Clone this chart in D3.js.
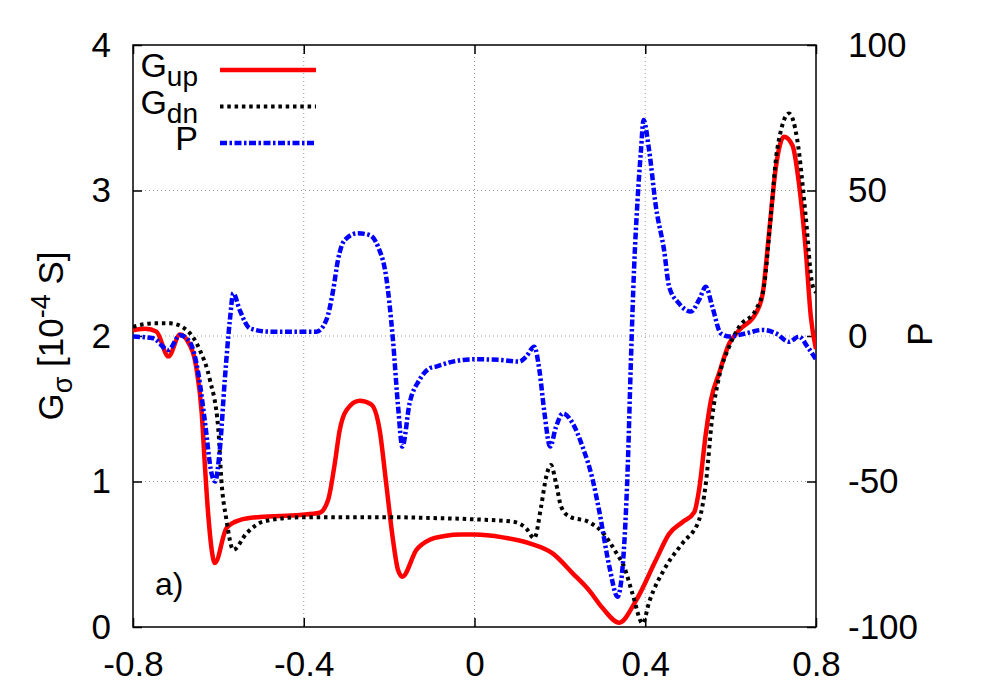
<!DOCTYPE html>
<html>
<head>
<meta charset="utf-8">
<script src="https://cdn.jsdelivr.net/npm/d3@7"></script>
<style>
  body { margin: 0; background: #fff; }
  svg { font-family: "Liberation Sans", Arial, sans-serif; }
</style>
</head>
<body>
<div id="chart"></div>
<script>
// values: [bias, value]
const gUp = [
  [-0.800, 2.04], [-0.770, 2.05], [-0.745, 2.03], [-0.717, 1.86], [-0.690, 2.01],
  [-0.671, 1.96], [-0.651, 1.77], [-0.639, 1.47], [-0.632, 1.13], [-0.624, 0.78],
  [-0.608, 0.44], [-0.581, 0.68], [-0.550, 0.735], [-0.503, 0.756], [-0.409, 0.77],
  [-0.363, 0.785], [-0.343, 0.873], [-0.327, 1.13], [-0.316, 1.35], [-0.300, 1.49],
  [-0.269, 1.555], [-0.242, 1.53], [-0.222, 1.35], [-0.207, 0.99], [-0.191, 0.60],
  [-0.179, 0.39], [-0.169, 0.346], [-0.136, 0.53], [-0.105, 0.60], [-0.070, 0.625],
  [-0.030, 0.635], [0.000, 0.635], [0.066, 0.616], [0.129, 0.575], [0.183, 0.506],
  [0.230, 0.369], [0.269, 0.25], [0.300, 0.13], [0.339, 0.03], [0.378, 0.18],
  [0.425, 0.46], [0.456, 0.64], [0.487, 0.72], [0.515, 0.79], [0.526, 0.942],
  [0.542, 1.331], [0.554, 1.56], [0.573, 1.744], [0.597, 1.95], [0.620, 2.04],
  [0.659, 2.156], [0.675, 2.29], [0.690, 2.706], [0.706, 3.16], [0.725, 3.37],
  [0.745, 3.31], [0.760, 3.05], [0.776, 2.59], [0.788, 2.13], [0.800, 1.91]
];

const gDn = [
  [-0.800, 2.064], [-0.753, 2.087], [-0.713, 2.087], [-0.674, 2.04], [-0.643, 1.90],
  [-0.620, 1.70], [-0.600, 1.354], [-0.593, 1.01], [-0.581, 0.735], [-0.565, 0.53],
  [-0.534, 0.644], [-0.495, 0.724], [-0.409, 0.754], [-0.200, 0.755], [-0.113, 0.75],
  [0.000, 0.74], [0.090, 0.724], [0.121, 0.678], [0.140, 0.61], [0.156, 0.827],
  [0.168, 1.033], [0.179, 1.113], [0.191, 0.988], [0.203, 0.827], [0.222, 0.76],
  [0.269, 0.72], [0.300, 0.65], [0.332, 0.51], [0.351, 0.41], [0.370, 0.23],
  [0.394, 0.025], [0.409, 0.17], [0.448, 0.414], [0.487, 0.575], [0.526, 0.735],
  [0.542, 0.988], [0.557, 1.445], [0.573, 1.72], [0.597, 1.93], [0.620, 2.064],
  [0.659, 2.18], [0.678, 2.34], [0.694, 2.82], [0.709, 3.28], [0.737, 3.53],
  [0.756, 3.35], [0.776, 2.82], [0.791, 2.36], [0.800, 2.30]
];

const pol = [
  [-0.800, -0.2], [-0.753, -0.8], [-0.717, -4.8], [-0.690, 0.3], [-0.667, -2],
  [-0.647, -12.8], [-0.632, -28.9], [-0.616, -47.2], [-0.608, -50], [-0.596, -38],
  [-0.585, -15.1], [-0.573, 5.5], [-0.565, 14.7], [-0.550, 8.9], [-0.526, 2.6],
  [-0.480, 1.5], [-0.370, 1.5], [-0.347, 5.5], [-0.331, 15.8], [-0.320, 26],
  [-0.304, 33], [-0.273, 35.3], [-0.246, 34.7], [-0.226, 30.7], [-0.207, 20.4],
  [-0.191, -1.4], [-0.179, -24.3], [-0.169, -38], [-0.152, -23.1], [-0.129, -15.1],
  [-0.105, -11.1], [-0.090, -10.5], [-0.051, -8.8], [0.000, -8], [0.058, -8.2],
  [0.105, -8.8], [0.121, -7.1], [0.140, -3.7], [0.152, -11.7], [0.164, -26.6],
  [0.177, -38], [0.191, -31.2], [0.207, -26.6], [0.230, -30], [0.253, -38],
  [0.277, -49.5], [0.292, -60], [0.316, -79.3], [0.335, -89.6], [0.347, -79.3],
  [0.359, -44.9], [0.366, -10.5], [0.374, 23.8], [0.382, 46.7], [0.390, 63.9],
  [0.396, 74.2], [0.409, 63.9], [0.425, 44.4], [0.444, 29.6], [0.456, 16.9],
  [0.479, 11.2], [0.507, 8.4], [0.526, 12.4], [0.542, 16.9], [0.557, 10.1],
  [0.577, 0.9], [0.597, -0.2], [0.636, 0.9], [0.675, 2.1], [0.706, 0.9],
  [0.737, -2], [0.760, -0.2], [0.780, -3.7], [0.800, -8]
];

const xTicks = [-0.8, -0.4, 0, 0.4, 0.8];
const gTicks = [0, 1, 2, 3, 4];
const pTicks = [-100, -50, 0, 50, 100];
const xGrid = [-0.4, 0, 0.4];
const gGrid = [1, 2, 3];

const width = 1000, height = 700;
const margin = {top: 45, right: 184, bottom: 73, left: 133};
const w = width - margin.left - margin.right;
const h = height - margin.top - margin.bottom;

const x = d3.scaleLinear().domain([-0.8, 0.8]).range([0, w]);
const yG = d3.scaleLinear().domain([0, 4]).range([h, 0]);
const yP = d3.scaleLinear().domain([-100, 100]).range([h, 0]);

const svg = d3.select("#chart").append("svg")
  .attr("width", width)
  .attr("height", height);

const g = svg.append("g").attr("transform", `translate(${margin.left},${margin.top})`);

g.append("defs").append("clipPath").attr("id", "clip")
  .append("rect").attr("width", w).attr("height", h);

// grid
g.append("g").selectAll("line").data(xGrid).join("line")
  .attr("x1", d => x(d)).attr("x2", d => x(d))
  .attr("y1", 0).attr("y2", h)
  .attr("stroke", "#9a9a9a").attr("stroke-width", 1).attr("stroke-dasharray", "1,3");
g.append("g").selectAll("line").data(gGrid).join("line")
  .attr("y1", d => yG(d)).attr("y2", d => yG(d))
  .attr("x1", 0).attr("x2", w)
  .attr("stroke", "#9a9a9a").attr("stroke-width", 1).attr("stroke-dasharray", "1,3");

// axes
const xFmt = d => d === 0 ? "0" : d.toFixed(1);

function styleAxis(sel) {
  sel.select(".domain").remove();
  sel.selectAll(".tick line").attr("stroke", "#000").attr("stroke-width", 1.5);
  sel.selectAll(".tick text")
    .attr("fill", "#000")
    .attr("font-size", 35)
    .attr("font-family", "'Liberation Sans', Arial, sans-serif");
}

g.append("g").attr("transform", `translate(0,${h})`)
  .call(d3.axisBottom(x).tickValues(xTicks).tickSize(-9).tickPadding(24).tickFormat(xFmt))
  .call(styleAxis);
g.append("g")
  .call(d3.axisTop(x).tickValues(xTicks).tickSize(-9).tickFormat(""))
  .call(styleAxis);
g.append("g")
  .call(d3.axisLeft(yG).tickValues(gTicks).tickSize(-9).tickPadding(22).tickFormat(d3.format("d")))
  .call(styleAxis);
g.append("g").attr("transform", `translate(${w},0)`)
  .call(d3.axisRight(yP).tickValues(pTicks).tickSize(-9).tickPadding(32).tickFormat(d => String(d)))
  .call(styleAxis);

// frame
g.append("rect").attr("width", w).attr("height", h)
  .attr("fill", "none").attr("stroke", "#000").attr("stroke-width", 1.5);

// curves
const lineG = d3.line().x(d => x(d[0])).y(d => yG(d[1])).curve(d3.curveMonotoneX);
const lineP = d3.line().x(d => x(d[0])).y(d => yP(d[1])).curve(d3.curveMonotoneX);

const curves = g.append("g").attr("clip-path", "url(#clip)");
curves.append("path").datum(gUp).attr("d", lineG)
  .attr("fill", "none").attr("stroke", "#ff0000").attr("stroke-width", 4.5)
  .attr("stroke-linejoin", "round");
curves.append("path").datum(gDn).attr("d", lineG)
  .attr("fill", "none").attr("stroke", "#000").attr("stroke-width", 4)
  .attr("stroke-dasharray", "3.5,3.8");
curves.append("path").datum(pol).attr("d", lineP)
  .attr("fill", "none").attr("stroke", "#0000ff").attr("stroke-width", 4.5)
  .attr("stroke-dasharray", "7,2.5,2.5,2.5");

// legend
const legend = [
  {main: "G", sub: "up", color: "#ff0000", dash: null, width: 4.5},
  {main: "G", sub: "dn", color: "#000", dash: "3.5,3.8", width: 4},
  {main: "P", sub: null, color: "#0000ff", dash: "7,2.5,2.5,2.5", width: 4.5}
];
const lg = svg.append("g");
legend.forEach((d, i) => {
  const by = 77 + i * 36.5;
  const t = lg.append("text").attr("x", 198).attr("y", by)
    .attr("text-anchor", "end").attr("font-size", 34);
  t.append("tspan").text(d.main);
  if (d.sub) t.append("tspan").attr("dy", 9).attr("font-size", 28).text(d.sub);
  lg.append("line").attr("x1", 220).attr("x2", 316)
    .attr("y1", by - 7).attr("y2", by - 7)
    .attr("stroke", d.color).attr("stroke-width", d.width)
    .attr("stroke-dasharray", d.dash);
});

// axis titles
const yl = svg.append("text")
  .attr("transform", "translate(63,336) rotate(-90)")
  .attr("text-anchor", "middle").attr("font-size", 35);
yl.append("tspan").text("G");
yl.append("tspan").attr("dy", 9).attr("font-size", 27).text("σ");
yl.append("tspan").attr("dy", -9).text(" [10");
yl.append("tspan").attr("dy", -13).attr("font-size", 27).text("-4");
yl.append("tspan").attr("dy", 13).text(" S]");

svg.append("text")
  .attr("transform", "translate(932,334) rotate(-90)")
  .attr("text-anchor", "middle").attr("font-size", 35).text("P");

svg.append("text").attr("x", 155).attr("y", 595).attr("font-size", 32).text("a)");
</script>
</body>
</html>
